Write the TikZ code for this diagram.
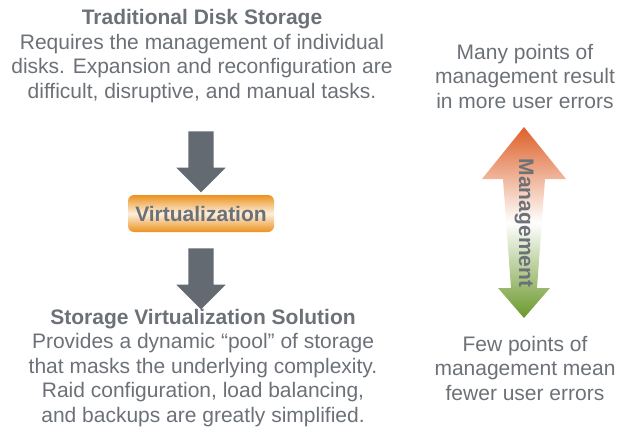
\documentclass[tikz,border=0pt]{standalone}
\usepackage{fontspec}
\setmainfont{Liberation Sans}
\usetikzlibrary{shapes.arrows,positioning}
\definecolor{txtgray}{RGB}{108,113,120}
\definecolor{arrgray}{RGB}{100,106,114}
\definecolor{virtorange}{RGB}{236,146,30}
\definecolor{mgmtred}{RGB}{222,96,40}
\definecolor{mgmtgreen}{RGB}{106,152,42}

\begin{document}
\begin{tikzpicture}[
        x=1pt,y=-1pt,
        txt/.style={align=center,text=txtgray,inner sep=0pt,anchor=base,
            font=\fontsize{21}{24.4}\selectfont},
        darr/.style={single arrow,fill=arrgray,draw=none,rotate=-90,
            minimum height=61pt,minimum width=49pt,
            single arrow head extend=12pt,inner sep=12.5pt},
        virt/.style={rounded corners=6pt,top color=virtorange,bottom color=virtorange,
            middle color=white!85!virtorange,minimum width=146pt,minimum height=37pt,
            inner sep=0pt,text=txtgray,font=\bfseries\fontsize{21}{24}\selectfont}
        ]
        \useasboundingbox (0,0) rectangle (619,431);
        % left column
        \node[txt] (trad) at (202,98) {{\bfseries Traditional Disk Storage}\\
            Requires the management of individual\\
            disks. Expansion and reconfiguration are\\
            difficult, disruptive, and manual tasks.};
        \node[darr] (down1) at (201,155.5) {};
        \node[virt] (virt) at (201,213.5) {Virtualization};
        \node[darr] (down2) at (201,272.5) {};
        \node[txt] (sol) at (203,422) {{\bfseries Storage Virtualization Solution}\\
            Provides a dynamic “pool” of storage\\
            that masks the underlying complexity.\\
            Raid configuration, load balancing,\\
            and backups are greatly simplified.};
        % right column
        \node[txt] (many) at (525,108) {Many points of\\management result\\in more user errors};
        \shade[top color=mgmtred,bottom color=mgmtgreen,middle color=white]
            (524,127) coordinate (mtop) -- (566,179) -- (545,179) -- (537,288) -- (550,288)
            -- (524,318) coordinate (mbot) -- (498,288) -- (511,288) -- (503,179) -- (482,179) -- cycle;
        \node[rotate=-90,text=txtgray,inner sep=0pt,font=\bfseries\fontsize{21}{24}\selectfont]
            (mgmt) at (524,223) {Management};
        \node[txt] (few) at (525,400) {Few points of\\management mean\\fewer user errors};
    \end{tikzpicture}
\end{document}
